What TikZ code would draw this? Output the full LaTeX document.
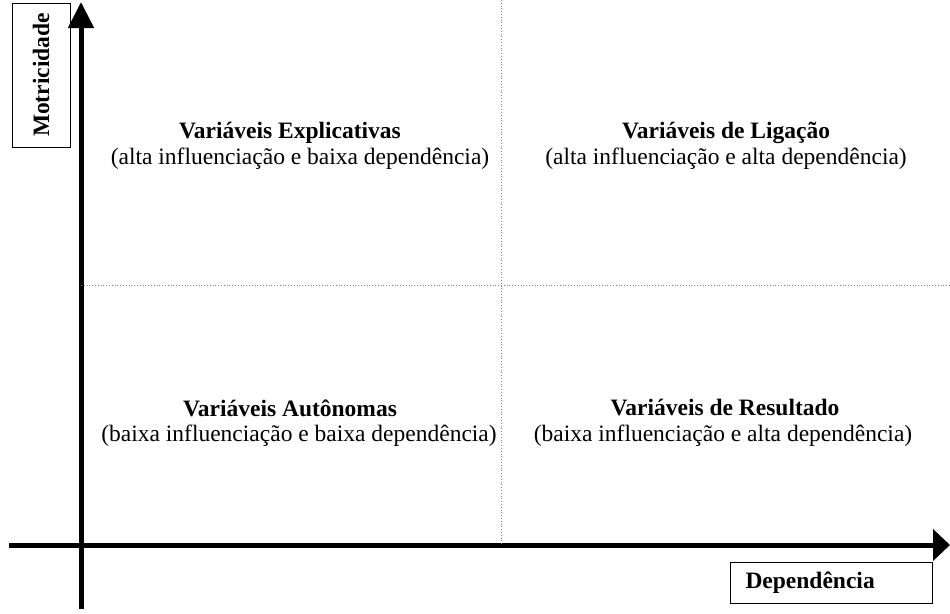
\documentclass[tikz,border=0pt]{standalone}
\usepackage{fontspec}
\setmainfont{Liberation Serif}
\usepackage{xcolor}
\usepackage{tikz}
\usetikzlibrary{arrows.meta}

\tikzset{
	eixo/.style={line width=5pt},
	divisao/.style={gray, line width=0.8pt, dotted},
	caixa/.style={draw, line width=1pt, inner sep=4pt, font=\bfseries\fontsize{23.5}{26}\selectfont},
	titulo/.style={font=\bfseries\fontsize{23.5}{26}\selectfont},
	legenda/.style={font=\fontsize{23.5}{26}\selectfont}
}

\begin{document}
\begin{tikzpicture}[x=1pt,y=-1pt]
	\useasboundingbox (0,0) rectangle (950,613);
	
	% eixos
	\coordinate (ybase) at (81,609);
	\coordinate (ytopo) at (81,2);
	\coordinate (xbase) at (9,545);
	\coordinate (xfim) at (950,545);
	\draw[eixo,-{Triangle[length=26pt,width=25pt]}] (ybase) -- (ytopo);
	\draw[eixo,-{Triangle[length=17pt,width=31pt]}] (xbase) -- (xfim);
	
	% quadrantes
	\coordinate (vtopo) at (501,0);
	\coordinate (vbase) at (501,545);
	\coordinate (hini) at (81,285);
	\coordinate (hfim) at (950,285);
	\draw[divisao] (vtopo) -- (vbase);
	\draw[divisao] (hini) -- (hfim);
	
	% rotulos dos eixos
	\node[caixa, rotate=90, minimum width=144pt, minimum height=58pt] (motr) at (41,75) {Motricidade};
	\node[caixa, text width=172pt, inner xsep=15pt, align=left, minimum height=41pt] (dep) at (831.5,583) {Dependência};
	
	% textos
	\node[titulo] (expl) at (290,133) {Variáveis Explicativas};
	\node[legenda] (explb) at (300,159) {(alta influenciação e baixa dependência)};
	\node[titulo] (lig) at (726,133) {Variáveis de Ligação};
	\node[legenda] (ligb) at (726,159) {(alta influenciação e alta dependência)};
	\node[titulo] (aut) at (290,408) {Variáveis Autônomas};
	\node[legenda] (autb) at (299,436) {(baixa influenciação e baixa dependência)};
	\node[titulo] (res) at (725,408) {Variáveis de Resultado};
	\node[legenda] (resb) at (723,436) {(baixa influenciação e alta dependência)};
	
\end{tikzpicture}
\end{document}
